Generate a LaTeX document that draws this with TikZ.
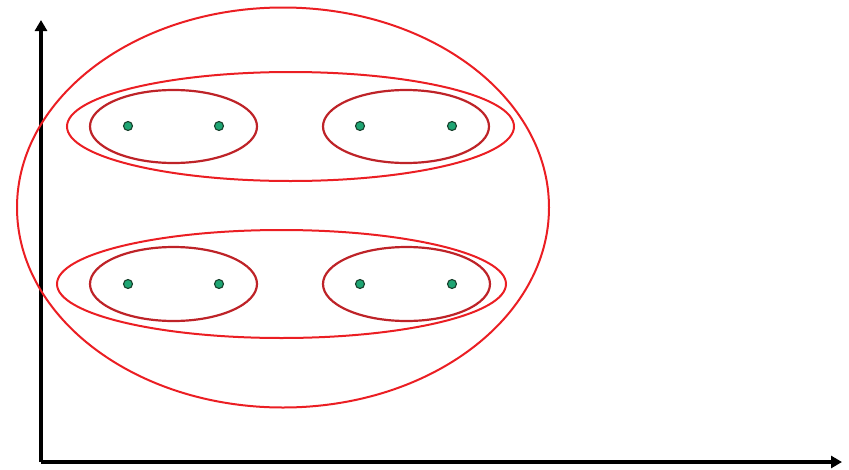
\documentclass[tikz,border=0pt]{standalone}
\usetikzlibrary{arrows.meta}
\definecolor{ringred}{RGB}{235,30,35}
\definecolor{innerred}{RGB}{190,35,40}
\definecolor{dotgreen}{RGB}{30,165,115}
\definecolor{dotline}{RGB}{25,65,45}
\begin{document}
\begin{tikzpicture}[x=1pt,y=-1pt,
    axis/.style={line width=3.2pt,-{Triangle[length=11pt,width=12pt]}},
    ring/.style={draw=ringred,line width=2pt},
    innerring/.style={draw=innerred,line width=2.2pt},
    dot/.style={circle,fill=dotgreen,draw=dotline,line width=1.1pt,inner sep=0pt,minimum size=9pt}]
  \useasboundingbox (0,0) rectangle (849,469);
  % Axes
  \coordinate (origin) at (41,462);
  \coordinate (ytop) at (41,20);
  \coordinate (xend) at (842,462);
  \draw[axis] (origin)--(ytop);
  \draw[axis] (origin)--(xend);
  % Whole set
  \draw[ring] (283,207.5) ellipse (266 and 200);
  % Upper half
  \draw[ring] (290.5,126.5) ellipse (223.5 and 54.5);
  \draw[innerring] (173.5,126.5) ellipse (83.5 and 36.5);
  \draw[innerring] (406,126.5) ellipse (83 and 36.5);
  % Lower half
  \draw[ring] (281.5,284) ellipse (224.5 and 54);
  \draw[innerring] (173.5,284) ellipse (83.5 and 37);
  \draw[innerring] (406.5,284) ellipse (83.5 and 37);
  % Points
  \foreach \name/\x/\y in {
    a/128/126,b/219/126,c/360/126,d/452/126,
    e/128/284,f/219/284,g/360/284,h/452/284}
    \node[dot] (\name) at (\x,\y) {};
\end{tikzpicture}
\end{document}
